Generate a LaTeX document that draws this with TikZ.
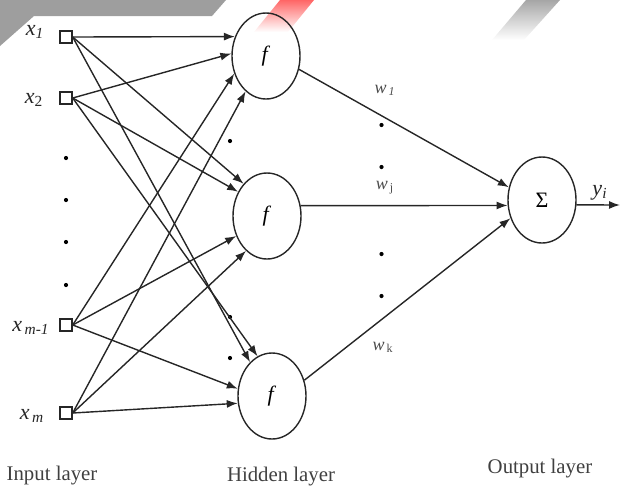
\documentclass[tikz,border=0pt]{standalone}
\usepackage{fontspec}
\setmainfont{Liberation Serif}
\usetikzlibrary{positioning}
\usetikzlibrary{shapes.geometric,arrows.meta,fadings}

\tikzset{
	unit/.style={draw=black!85,line width=0.7pt,minimum size=6pt,inner sep=0pt},
	neuron/.style={draw=black!85,line width=0.7pt,ellipse,inner sep=0pt,minimum width=34pt,minimum height=43pt,font=\fontsize{11}{13}\selectfont},
	conn/.style={draw=black!85,line width=0.7pt,-{Latex[length=5.5pt,width=4pt]}},
	layerlbl/.style={text=black!75,font=\fontsize{10.4}{12}\selectfont},
	varlbl/.style={text=black!85,font=\fontsize{11}{13}\selectfont},
	wlbl/.style={text=black!70,font=\fontsize{9}{11}\selectfont}
}

\begin{document}
\begin{tikzpicture}[x=0.5pt,y=-0.5pt]
	\useasboundingbox (0,0) rectangle (620,488);
	
	% BANNER
	\fill[black!38] (0,0) -- (226,0) -- (212,16) -- (34,16) -- (0,46) -- cycle;
	\fill[red!60,path fading=south] (280,0) -- (314,0) -- (288,32) -- (254,32) -- cycle;
	\fill[black!35,path fading=south] (526,0) -- (560,0) -- (524,40) -- (492,40) -- cycle;
	
	% INPUT LAYER
	\node[unit] (x1) at (66,37) {};
	\node[unit] (x2) at (66,98) {};
	\node[unit] (xm1) at (66,325) {};
	\node[unit] (xm) at (66,413) {};
	
	\node[varlbl] (lx1) at (35,32) {\textit{x}\textsubscript{\textit{1}}};
	\node[varlbl] (lx2) at (34,100) {\textit{x}\textsubscript{2}};
	\node[varlbl] (lxm1) at (31,328) {\textit{x}\textsubscript{\,\textit{m-1}}};
	\node[varlbl] (lxm) at (32,416) {\textit{x}\textsubscript{\,\textit{m}}};
	
	\foreach \y in {158,200,242,285}
		\fill (66,\y) circle (2.1);
	
	\node[layerlbl] (inlbl) at (52,476) {Input layer};
	
	% HIDDEN LAYER
	\node[neuron] (h1) at (266,56) {\textit{f}};
	\node[neuron] (h2) at (267,216) {\textit{f}};
	\node[neuron] (h3) at (272,396) {\textit{f}};
	
	\foreach \y in {141,317,358}
		\fill (230,\y) circle (2.1);
	
	\node[layerlbl] (hidlbl) at (281,477) {Hidden layer};
	
	\foreach \s/\t in {x1/h1.148, x2/h1.176, xm1/h1.209, xm/h1.240,
	                   x1/h2.126, x2/h2.140, xm1/h2.213, xm/h2.239,
	                   x1/h3.123, x2/h3.110, xm1/h3.168, xm/h3.192}
		\draw[conn] (\s.east) -- (\t);
	
	% OUTPUT LAYER
	\node[neuron] (out) at (542,200) {Σ};
	\node[layerlbl] (outlbl) at (540,469) {Output layer};
	
	\draw[conn] (h1.338) -- (out.159);
	\draw[conn] (h2.17) -- (out.189);
	\draw[conn] (h3.26) -- (out.210);
	
	\node[wlbl] (w1) at (385,90) {\textit{w}\textsubscript{\,\textit{1}}};
	\node[wlbl] (wj) at (385,188) {\textit{w}\textsubscript{\,j}};
	\node[wlbl] (wk) at (383,347) {\textit{w}\textsubscript{\,k}};
	
	\foreach \y in {125,167,254,296}
		\fill (381.5,\y) circle (2.1);
	
	\coordinate (yend) at (620,205);
	\draw[conn] (out.-8) -- (yend);
	\node[varlbl] (ylbl) at (600,193) {\textit{y}\textsubscript{\textit{i}}};
\end{tikzpicture}
\end{document}
